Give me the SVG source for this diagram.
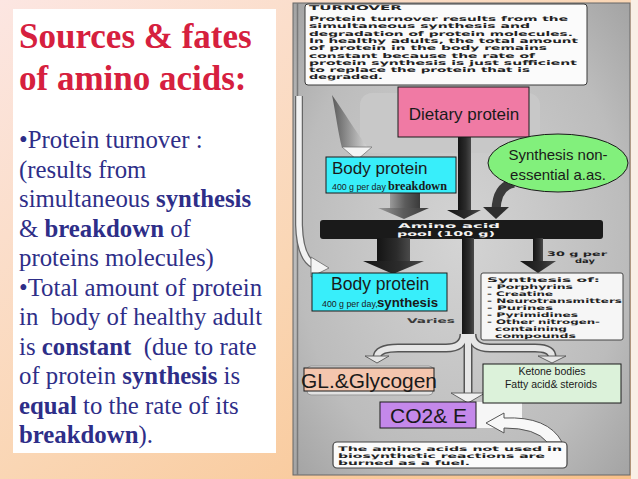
<svg xmlns="http://www.w3.org/2000/svg" width="638" height="479" viewBox="0 0 638 479">
<defs>
<linearGradient id="bg" x1="0" y1="0" x2="1" y2="1">
<stop offset="0" stop-color="#fce6e2"/>
<stop offset="0.5" stop-color="#fad6b4"/>
<stop offset="1" stop-color="#f8c088"/>
</linearGradient>
<radialGradient id="panel" cx="0.5" cy="0.5" r="0.7">
<stop offset="0" stop-color="#d4d4d4"/>
<stop offset="0.7" stop-color="#bcbcbc"/>
<stop offset="1" stop-color="#a4a4a4"/>
</radialGradient>
<linearGradient id="dark" x1="0" y1="0" x2="1" y2="0">
<stop offset="0" stop-color="#141414"/>
<stop offset="0.6" stop-color="#2c2c2c"/>
<stop offset="1" stop-color="#4a4a4a"/>
</linearGradient>
<linearGradient id="grayA" x1="0" y1="0" x2="1" y2="0">
<stop offset="0" stop-color="#9a9a9a"/>
<stop offset="0.5" stop-color="#5c5c5c"/>
<stop offset="1" stop-color="#3a3a3a"/>
</linearGradient>
<linearGradient id="spike" x1="0" y1="0" x2="1" y2="0">
<stop offset="0" stop-color="#5a5a5a"/>
<stop offset="1" stop-color="#d8d8d8"/>
</linearGradient>
<style>
.title{font-family:"Liberation Serif",serif;font-weight:bold;font-size:35px;fill:#d6203e}
.body{font-family:"Liberation Serif",serif;font-size:24.8px;fill:#2e2e88;white-space:pre}
.b{font-weight:bold}
.scan{font-family:"DejaVu Sans",sans-serif;font-weight:bold;font-size:6.6px;fill:#222}
.sm{font-size:6.3px}
.lbl{font-family:"Liberation Sans",Arial,sans-serif;fill:#1a1a1a}
.box{stroke:#1a1a1a;stroke-width:1}
</style>
</defs>

<!-- slide background -->
<rect x="0" y="0" width="638" height="479" fill="url(#bg)"/>
<rect x="631" y="0" width="7" height="479" fill="#f9efe6"/>

<!-- left text panel -->
<g id="text-panel">
<rect x="13" y="9" width="263" height="444" fill="#ffffff"/>
<text class="title" x="19" y="48">Sources &amp; fates</text>
<text class="title" x="19" y="90">of amino acids:</text>
<text class="body" x="19" y="148">•Protein turnover :</text>
<text class="body" x="19" y="177.5">(results from</text>
<text class="body" x="19" y="207">simultaneous <tspan class="b">synthesis</tspan></text>
<text class="body" x="19" y="236.5">&amp; <tspan class="b">breakdown</tspan> of</text>
<text class="body" x="19" y="266">proteins molecules)</text>
<text class="body" x="19" y="295.5">•Total amount of protein</text>
<text class="body" x="19" y="325">in  body of healthy adult</text>
<text class="body" x="19" y="354.5">is <tspan class="b">constant</tspan>  (due to rate</text>
<text class="body" x="19" y="384">of protein <tspan class="b">synthesis</tspan> is</text>
<text class="body" x="19" y="413.5"><tspan class="b">equal</tspan> to the rate of its</text>
<text class="body" x="19" y="443"><tspan class="b">breakdown</tspan>).</text>
</g>

<!-- scanned figure background -->
<g id="scan-panel">
<rect x="293" y="3" width="337" height="472" fill="url(#panel)" stroke="#666" stroke-width="1"/>
<line x1="297.5" y1="3" x2="297.5" y2="475" stroke="#7a7a7a" stroke-width="1.5"/>
<rect x="360" y="93" width="180" height="60" rx="12" fill="#c8c8c8"/>
</g>

<!-- turnover note -->
<g id="turnover-note">
<rect x="305" y="4" width="282" height="81" rx="3" fill="#fbfbfb" stroke="#3a3a3a" stroke-width="1"/>
<text class="scan" x="309" y="10" textLength="93" lengthAdjust="spacingAndGlyphs">TURNOVER</text>
<text class="scan" x="309" y="21" textLength="259" lengthAdjust="spacingAndGlyphs">Protein turnover results from the</text>
<text class="scan" x="309" y="28.3" textLength="221" lengthAdjust="spacingAndGlyphs">simultaneous synthesis and</text>
<text class="scan" x="309" y="35.6" textLength="264" lengthAdjust="spacingAndGlyphs">degradation of protein molecules.</text>
<text class="scan" x="309" y="42.9" textLength="269" lengthAdjust="spacingAndGlyphs">In healthy adults, the total amount</text>
<text class="scan" x="309" y="50.2" textLength="238" lengthAdjust="spacingAndGlyphs">of protein in the body remains</text>
<text class="scan" x="309" y="57.5" textLength="226" lengthAdjust="spacingAndGlyphs">constant because the rate of</text>
<text class="scan" x="309" y="64.8" textLength="268" lengthAdjust="spacingAndGlyphs">protein synthesis is just sufficient</text>
<text class="scan" x="309" y="72.1" textLength="221" lengthAdjust="spacingAndGlyphs">to replace the protein that is</text>
<text class="scan" x="309" y="79.4" textLength="74" lengthAdjust="spacingAndGlyphs">degraded.</text>
</g>

<!-- connectors -->
<g id="connectors">
<!-- spike arrow from note to body protein -->
<path d="M332 95 C336 115 338 132 342 148 L368 148 C356 132 344 112 332 95 Z" fill="url(#spike)"/>
<polygon points="342,147 372,147 357,160" fill="#f4f4f4" stroke="#777" stroke-width="0.8"/>
<!-- left white curved arrow -->
<path d="M299 96 L299 225 Q300 258 314 265" fill="none" stroke="#666" stroke-width="8"/>
<path d="M299 96 L299 225 Q300 258 314 265" fill="none" stroke="#f2f2f2" stroke-width="5.5"/>
<polygon points="311,257 329,268 311,277" fill="#f4f4f4" stroke="#666" stroke-width="0.8"/>
<!-- breakdown arrow -->
<rect x="390" y="193" width="30" height="16" fill="url(#grayA)"/>
<polygon points="378,208 429,208 404,219" fill="url(#grayA)"/>
<!-- dietary arrow -->
<rect x="458" y="137" width="13" height="74" fill="url(#dark)"/>
<polygon points="447,210 481,210 464,219" fill="url(#dark)"/>
<!-- non-essential arrow -->
<path d="M514 183 Q497 186 496 210" fill="none" stroke="#3a3a3a" stroke-width="9"/>
<polygon points="483,207 509,207 496,219" fill="#2e2e2e"/>
<!-- amino acid pool -->
<rect x="320" y="220" width="283" height="19" rx="3" fill="#1a1a1a"/>
<text class="scan" x="398" y="227.5" textLength="102" lengthAdjust="spacingAndGlyphs" style="fill:#f2f2f2">Amino acid</text>
<text class="scan" x="397" y="235.5" textLength="98" lengthAdjust="spacingAndGlyphs" style="fill:#f2f2f2">pool (100 g)</text>
<!-- to body protein synthesis -->
<rect x="377" y="238" width="33" height="25" fill="url(#dark)"/>
<polygon points="363,261 424,261 393,274" fill="url(#dark)"/>
<!-- trunk -->
<rect x="462" y="238" width="12" height="100" fill="url(#dark)"/>
<!-- 30 g per day arrow -->
<rect x="533" y="238" width="10" height="24" fill="url(#dark)"/>
<polygon points="520,261 556,261 538,273" fill="url(#dark)"/>
<text class="scan sm" x="547" y="256" textLength="60" lengthAdjust="spacingAndGlyphs">30 g per</text>
<text class="scan sm" x="575" y="263" textLength="20" lengthAdjust="spacingAndGlyphs">day</text>
<text class="scan" x="407" y="323" textLength="48" lengthAdjust="spacingAndGlyphs" style="fill:#3a3a3a">Varies</text>
<!-- lower branches -->
<g fill="none" stroke="#555" stroke-width="9">
<path d="M464 334 Q464 348 446 348 L398 348 Q378 348 377 357"/>
<path d="M472 334 Q472 348 490 348 L535 348 Q552 348 552 357"/>
<path d="M468 334 L468 394"/>
</g>
<g fill="none" stroke="#e6e6e6" stroke-width="6">
<path d="M464 334 Q464 348 446 348 L398 348 Q378 348 377 357"/>
<path d="M472 334 Q472 348 490 348 L535 348 Q552 348 552 357"/>
<path d="M468 334 L468 394"/>
</g>
<polygon points="365,356 389,356 377,363" fill="#e6e6e6" stroke="#555" stroke-width="0.9"/>
<polygon points="538,356 566,356 552,363" fill="#e6e6e6" stroke="#555" stroke-width="0.9"/>
<polygon points="451,393 485,393 468,403" fill="#f0f0f0" stroke="#555" stroke-width="0.9"/>
<!-- fuel arrow -->
<rect x="476" y="402" width="46" height="26" fill="#f6f6f6"/>
<path d="M486 423 L504 413 L504 418 Q548 416 562 442 L547 442 Q536 428 504 428 L504 433 Z" fill="#f8f8f8" stroke="#555" stroke-width="1"/>
</g>

<!-- fuel note -->
<g id="fuel-note">
<rect x="333" y="442" width="234" height="26" rx="4" fill="#fbfbfb" stroke="#444" stroke-width="1.2"/>
<text class="scan sm" x="338" y="451" textLength="224" lengthAdjust="spacingAndGlyphs">The amino acids not used in</text>
<text class="scan sm" x="338" y="458" textLength="207" lengthAdjust="spacingAndGlyphs">biosynthetic reactions are</text>
<text class="scan sm" x="338" y="465" textLength="132" lengthAdjust="spacingAndGlyphs">burned as a fuel.</text>
</g>

<!-- nodes -->
<g id="dietary-protein">
<rect class="box" x="398" y="87" width="131" height="50" fill="#f07aa4"/>
<text class="lbl" x="464" y="120" font-size="17" text-anchor="middle">Dietary protein</text>
</g>

<g id="synthesis-nonessential">
<ellipse cx="558" cy="163" rx="70" ry="29" fill="#82f07c" stroke="#1a1a1a" stroke-width="1"/>
<text class="lbl" x="558" y="160" font-size="15" text-anchor="middle">Synthesis non-</text>
<text class="lbl" x="558" y="180" font-size="15" text-anchor="middle">essential a.as.</text>
</g>

<g id="body-protein-breakdown">
<rect class="box" x="326" y="157" width="130" height="36" fill="#38eefa"/>
<text class="lbl" x="332" y="174" font-size="17">Body protein</text>
<text class="lbl" x="332" y="190" font-size="8.8">400 g per day</text>
<text x="388" y="190" font-family="Liberation Serif,serif" font-weight="bold" font-size="12" fill="#1a1a1a" textLength="59" lengthAdjust="spacingAndGlyphs">breakdown</text>
</g>

<g id="body-protein-synthesis">
<rect class="box" x="312" y="273" width="135" height="38" fill="#38eefa"/>
<text class="lbl" x="331" y="290" font-size="17.5">Body protein</text>
<text class="lbl" x="322" y="307" font-size="8.8">400 g per day,</text>
<text class="lbl" x="377" y="307" font-size="12.5" font-weight="bold" textLength="61" lengthAdjust="spacingAndGlyphs">synthesis</text>
</g>

<g id="synthesis-of">
<rect x="481" y="273" width="142" height="67" rx="2" fill="#f6f6f6" stroke="#444" stroke-width="1"/>
<g class="scan sm">
<text x="487" y="282" textLength="113" lengthAdjust="spacingAndGlyphs">Synthesis of:</text>
<text x="487" y="289" textLength="86" lengthAdjust="spacingAndGlyphs">- Porphyrins</text>
<text x="487" y="296" textLength="66" lengthAdjust="spacingAndGlyphs">- Creatine</text>
<text x="487" y="303" textLength="135" lengthAdjust="spacingAndGlyphs">- Neurotransmitters</text>
<text x="487" y="310" textLength="66" lengthAdjust="spacingAndGlyphs">- Purines</text>
<text x="487" y="317" textLength="91" lengthAdjust="spacingAndGlyphs">- Pyrimidines</text>
<text x="487" y="324" textLength="113" lengthAdjust="spacingAndGlyphs">- Other nitrogen-</text>
<text x="495" y="331" textLength="72" lengthAdjust="spacingAndGlyphs">containing</text>
<text x="495" y="338" textLength="81" lengthAdjust="spacingAndGlyphs">compounds</text>
</g>
</g>

<g id="gl-glycogen">
<rect x="307" y="366" width="126" height="29" rx="4" fill="#e2e2e2" stroke="#999" stroke-width="1"/>
<rect class="box" x="304" y="368" width="130" height="23" fill="#f4c6ae"/>
<text class="lbl" x="301" y="388" font-size="21" textLength="136" lengthAdjust="spacingAndGlyphs">GL.&amp;Glycogen</text>
</g>

<g id="ketone-bodies">
<rect class="box" x="483" y="364" width="138" height="39" fill="#dcf2da"/>
<text class="lbl" x="552" y="375" font-size="10.5" text-anchor="middle">Ketone bodies</text>
<text class="lbl" x="551" y="388" font-size="10.5" text-anchor="middle">Fatty acid&amp; steroids</text>
</g>

<g id="co2-e">
<rect class="box" x="380" y="402" width="96" height="26" fill="#c488ea"/>
<text class="lbl" x="390" y="423" font-size="21" textLength="77" lengthAdjust="spacingAndGlyphs">CO2&amp; E</text>
</g>
</svg>
